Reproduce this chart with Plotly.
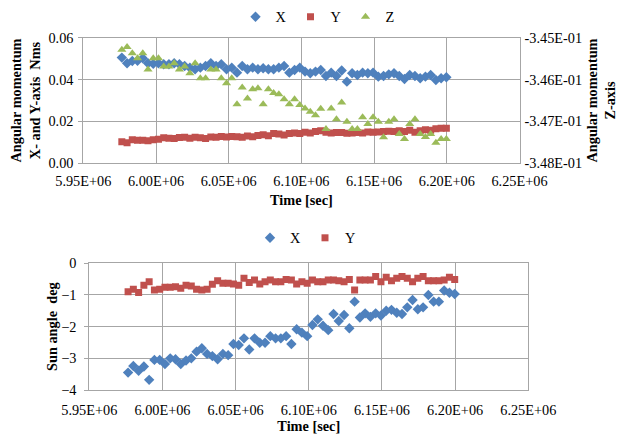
import plotly.graph_objects as go

time_sec = [5976500, 5980100, 5983700, 5987300, 5990900, 5994500, 5998100, 6001700,
            6005300, 6008900, 6012500, 6016100, 6019700, 6023300, 6026900, 6030500,
            6034100, 6037700, 6041300, 6044900, 6048500, 6052100, 6055700, 6059300,
            6062900, 6066500, 6070100, 6073700, 6077300, 6080900, 6084500, 6088100,
            6091700, 6095300, 6098900, 6102500, 6106100, 6109700, 6113300, 6116900,
            6120500, 6124100, 6127700, 6131300, 6134900, 6138500, 6142100, 6145700,
            6149300, 6152900, 6156500, 6160100, 6163700, 6167300, 6170900, 6174500,
            6178100, 6181700, 6185300, 6188900, 6192500, 6196100, 6199700]

# Angular momentum X (Nms)
h_x = [0.0505, 0.0478, 0.0489, 0.0490, 0.0502, 0.0478, 0.0475, 0.0478, 0.0473, 0.0473,
       0.0478, 0.0473, 0.0465, 0.0457, 0.0449, 0.0457, 0.0465, 0.0478, 0.0465, 0.0473,
       0.0449, 0.0457, 0.0433, 0.0465, 0.0449, 0.0457, 0.0449, 0.0454, 0.0449, 0.0449,
       0.0457, 0.0465, 0.0433, 0.0446, 0.0457, 0.0438, 0.0430, 0.0438, 0.0446, 0.0417,
       0.0433, 0.0417, 0.0443, 0.0390, 0.0430, 0.0422, 0.0433, 0.0430, 0.0433, 0.0414,
       0.0417, 0.0425, 0.0430, 0.0417, 0.0403, 0.0422, 0.0417, 0.0406, 0.0414, 0.0422,
       0.0398, 0.0406, 0.0411]
# Angular momentum Y (Nms)
h_y = [0.0103, 0.0098, 0.0113, 0.0110, 0.0110, 0.0108, 0.0113, 0.0115, 0.0122, 0.0120,
       0.0118, 0.0123, 0.0125, 0.0120, 0.0125, 0.0122, 0.0118, 0.0126, 0.0125, 0.0128,
       0.0126, 0.0128, 0.0127, 0.0125, 0.0130, 0.0127, 0.0133, 0.0136, 0.0132, 0.0142,
       0.0140, 0.0135, 0.0142, 0.0145, 0.0142, 0.0148, 0.0145, 0.0152, 0.0155, 0.0148,
       0.0145, 0.0147, 0.0147, 0.0143, 0.0145, 0.0147, 0.0145, 0.0150, 0.0148, 0.0150,
       0.0152, 0.0153, 0.0152, 0.0155, 0.0152, 0.0158, 0.0148, 0.0155, 0.0160, 0.0158,
       0.0165, 0.0168, 0.0167]
# Angular momentum Z (right axis)
h_z = [-0.34529, -0.34522, -0.34537, -0.34549, -0.34537, -0.34576, -0.34549, -0.34549,
       -0.34569, -0.34569, -0.34561, -0.34576, -0.34569, -0.34585, -0.34561, -0.34597,
       -0.34597, -0.34576, -0.34576, -0.34597, -0.34609, -0.34597, -0.34659, -0.34619,
       -0.34645, -0.34623, -0.34621, -0.34659, -0.34623, -0.34632, -0.34635, -0.34647,
       -0.34659, -0.34647, -0.34661, -0.34669, -0.34677, -0.34685, -0.34670, -0.34718,
       -0.34669, -0.34695, -0.34655, -0.34701, -0.34718, -0.34718, -0.34690, -0.34706,
       -0.34690, -0.34701, -0.34738, -0.34701, -0.34695, -0.34730, -0.34742, -0.34706,
       -0.34695, -0.34730, -0.34737, -0.34730, -0.34751, -0.34742, -0.34742]

# Sun angle (deg)
sun_x = [-3.45, -3.24, -3.39, -3.26, -3.68, -3.05, -3.05, -3.18, -3.00, -3.03,
         -3.18, -3.07, -3.00, -2.79, -2.68, -2.86, -2.93, -3.03, -2.86, -2.90,
         -2.55, -2.58, -2.37, -2.72, -2.37, -2.51, -2.51, -2.30, -2.37, -2.37,
         -2.30, -2.55, -2.08, -2.19, -2.30, -1.95, -1.77, -1.97, -2.11, -1.60,
         -1.82, -1.63, -2.05, -1.21, -1.71, -1.58, -1.69, -1.58, -1.65, -1.50,
         -1.47, -1.56, -1.60, -1.39, -1.16, -1.45, -1.39, -1.00, -1.21, -1.21,
         -0.86, -0.93, -0.97]
sun_y = [-0.90, -0.82, -0.92, -0.69, -0.58, -0.84, -0.82, -0.76, -0.76, -0.74,
         -0.79, -0.69, -0.72, -0.82, -0.84, -0.82, -0.66, -0.55, -0.63, -0.63,
         -0.65, -0.69, -0.47, -0.61, -0.53, -0.65, -0.58, -0.53, -0.58, -0.58,
         -0.51, -0.53, -0.65, -0.58, -0.63, -0.53, -0.58, -0.58, -0.53, -0.53,
         -0.55, -0.58, -0.51, -0.84, -0.53, -0.53, -0.53, -0.42, -0.58, -0.44,
         -0.55, -0.47, -0.42, -0.47, -0.58, -0.47, -0.42, -0.55, -0.55, -0.55,
         -0.53, -0.44, -0.51]

x_tickvals = [5950000, 6000000, 6050000, 6100000, 6150000, 6200000, 6250000]
x_ticktext = ["5.95E+06", "6.00E+06", "6.05E+06", "6.10E+06", "6.15E+06", "6.20E+06", "6.25E+06"]
z_tickvals = [-0.345, -0.346, -0.347, -0.348]
z_ticktext = ["-3.45E-01", "-3.46E-01", "-3.47E-01", "-3.48E-01"]

BLUE = "#4f81bd"
RED = "#c0504d"
GREEN = "#9bbb59"
GRID = "#a6a6a6"
FONT = "Liberation Serif, Times New Roman, serif"
FS = 14.3
W, H = 616, 432   # page body has an 8px margin in the 624x440 window

fig = go.Figure()
fig.add_trace(go.Scatter(x=time_sec, y=h_x, mode="markers", name="X",
                         marker=dict(symbol="diamond", size=8, color=BLUE),
                         xaxis="x", yaxis="y", legend="legend"))
fig.add_trace(go.Scatter(x=time_sec, y=h_y, mode="markers", name="Y",
                         marker=dict(symbol="square", size=7, color=RED),
                         xaxis="x", yaxis="y", legend="legend"))
fig.add_trace(go.Scatter(x=time_sec, y=h_z, mode="markers", name="Z",
                         marker=dict(symbol="triangle-up", size=8, color=GREEN),
                         xaxis="x", yaxis="y3", legend="legend"))
fig.add_trace(go.Scatter(x=time_sec, y=sun_x, mode="markers", name="X",
                         marker=dict(symbol="diamond", size=8, color=BLUE),
                         xaxis="x2", yaxis="y2", legend="legend2"))
fig.add_trace(go.Scatter(x=time_sec, y=sun_y, mode="markers", name="Y",
                         marker=dict(symbol="square", size=7, color=RED),
                         xaxis="x2", yaxis="y2", legend="legend2"))

axis_common = dict(showgrid=True, gridcolor=GRID, gridwidth=1, showline=True,
                   linecolor=GRID, linewidth=1, mirror=True,
                   tickcolor=GRID, zeroline=False, automargin=False,
                   tickfont=dict(family=FONT, size=FS, color="#000"))
title_font = dict(family=FONT, size=FS, color="#000")

fig.update_layout(
    width=W, height=H,
    margin=dict(l=0, r=0, t=0, b=0, autoexpand=False),
    paper_bgcolor="white", plot_bgcolor="white",
    font=dict(family=FONT, size=FS, color="#000"),
    xaxis=dict(domain=[75.3/W, 511.5/W], range=[5950000, 6250000],
               tickvals=x_tickvals, ticktext=x_ticktext, anchor="y",
               ticks="", ticklabelstandoff=5,
               title=dict(text="<b>Time [sec]</b>", standoff=6, font=title_font), **axis_common),
    yaxis=dict(domain=[1-155.3/H, 1-29.7/H], range=[0, 0.06],
               tickvals=[0, 0.02, 0.04, 0.06], tickformat=".2f", anchor="x",
               ticks="outside", ticklen=4, ticklabelstandoff=2,
               title=dict(text="<b>Angular momentum<br>X- and Y-axis  Nms</b>", standoff=17,
                          font=title_font),
               **axis_common),
    yaxis3=dict(overlaying="y", side="right", anchor="x", range=[-0.348, -0.345],
                tickvals=z_tickvals, ticktext=z_ticktext, showgrid=False,
                showline=False, ticks="inside", ticklen=4, tickcolor=GRID,
                ticklabelstandoff=4, automargin=False,
                tickfont=dict(family=FONT, size=FS, color="#000"), zeroline=False,
                title=dict(text="<b>Angular momentum<br>Z-axis</b>", standoff=5,
                           font=title_font)),
    xaxis2=dict(domain=[81.3/W, 520.3/W], range=[5950000, 6250000],
                tickvals=x_tickvals, ticktext=x_ticktext, anchor="y2",
                ticks="", ticklabelstandoff=7,
                title=dict(text="<b>Time [sec]</b>", standoff=2, font=title_font), **axis_common),
    yaxis2=dict(domain=[1-382/H, 1-255.3/H], range=[-4, 0],
                tickvals=[0, -1, -2, -3, -4], anchor="x2",
                ticks="outside", ticklen=4, ticklabelstandoff=5,
                title=dict(text="<b>Sun angle  deg</b>", standoff=0, font=title_font),
                **axis_common),
    legend=dict(orientation="h", x=310/W, xanchor="center", y=1-9/H, yanchor="middle",
                font=dict(family=FONT, size=FS), itemwidth=30, tracegroupgap=0,
                entrywidth=10, entrywidthmode="pixels",
                bgcolor="rgba(0,0,0,0)"),
    legend2=dict(orientation="h", x=297/W, xanchor="center", y=1-230/H, yanchor="middle",
                 font=dict(family=FONT, size=FS), itemwidth=30, tracegroupgap=0,
                 entrywidth=10, entrywidthmode="pixels",
                 bgcolor="rgba(0,0,0,0)"),
)

fig.write_html("out.html")
